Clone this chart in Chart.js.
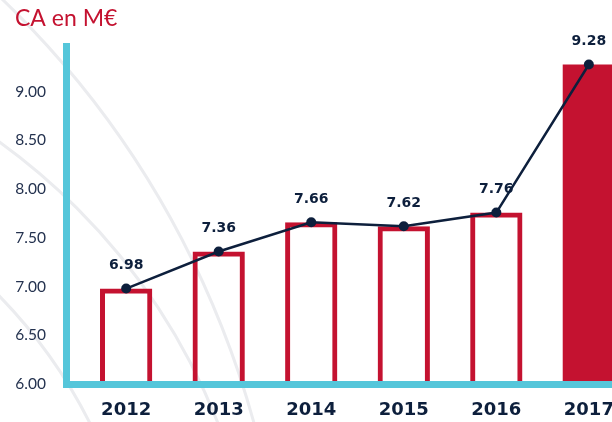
<!DOCTYPE html>
<html>
<head>
<meta charset="utf-8">
<script src="https://cdn.jsdelivr.net/npm/chart.js@4.4.0/dist/chart.umd.min.js"></script>
<style>
  html, body { margin: 0; padding: 0; background: #fff; overflow: hidden; }
</style>
</head>
<body>
<canvas id="caChart" width="612" height="422"></canvas>
<script>
var years = [2012, 2013, 2014, 2015, 2016, 2017];
var revenue = [6.98, 7.36, 7.66, 7.62, 7.76, 9.28];
var yTicks = [6, 6.5, 7, 7.5, 8, 8.5, 9];

var red = '#C41230';
var navy = '#0D1F3C';
var cyan = '#55C6DA';

// faint decorative arcs behind the chart
var backgroundArcs = {
  id: 'backgroundArcs',
  beforeDraw: function(chart) {
    var c = chart.ctx;
    c.save();
    c.fillStyle = '#fff';
    c.fillRect(0, 0, chart.width, chart.height);
    c.strokeStyle = '#EBECEF';
    c.lineWidth = 3;
    [[-643, 669, 930], [-370, 655, 632], [-370, 655, 515]].forEach(function(a) {
      c.beginPath();
      c.arc(a[0], a[1], a[2], 0, Math.PI * 2);
      c.stroke();
    });
    c.restore();
  }
};

// value labels above the line points
var valueLabels = {
  id: 'valueLabels',
  afterDatasetsDraw: function(chart) {
    var meta = chart.getDatasetMeta(1);
    var c = chart.ctx;
    c.save();
    c.font = 'bold 14px "DejaVu Sans"';
    c.fillStyle = navy;
    c.textAlign = 'center';
    c.textBaseline = 'middle';
    meta.data.forEach(function(pt, i) {
      c.fillText(revenue[i].toFixed(2), pt.x, pt.y - 23);
    });
    c.restore();
  }
};

var points = years.map(function(y, i) { return { x: y, y: revenue[i] }; });

var caChart = new Chart(document.getElementById('caChart'), {
  type: 'bar',
  data: {
    datasets: [{
      type: 'bar',
      data: points,
      order: 1,
      backgroundColor: function(ctx) {
        return ctx.dataIndex === years.length - 1 ? red : 'transparent';
      },
      borderColor: red,
      borderWidth: function(ctx) {
        return ctx.dataIndex === years.length - 1 ? 0 : 5;
      },
      categoryPercentage: 1,
      barPercentage: 0.565
    },
    {
      type: 'line',
      data: points,
      order: 0,
      borderColor: navy,
      borderWidth: 2.5,
      pointRadius: 5,
      pointBackgroundColor: navy,
      pointBorderWidth: 0,
      tension: 0
    }]
  },
  options: {
    responsive: false,
    animation: false,
    layout: {
      autoPadding: false,
      padding: { left: 15, top: 0, right: 0, bottom: 0 }
    },
    plugins: {
      legend: { display: false },
      tooltip: { enabled: false },
      title: {
        display: true,
        text: 'CA en M€',
        align: 'start',
        color: red,
        font: { family: 'Lato', size: 23, weight: 'normal' },
        padding: { top: 5, bottom: 13.4 }
      }
    },
    scales: {
      x: {
        type: 'linear',
        offset: false,
        min: 2011.35,
        max: 2017.25,
        afterBuildTicks: function(s) {
          s.ticks = years.map(function(v) { return { value: v }; });
        },
        afterFit: function(s) {
          s.height = 38;
          s.paddingLeft = 0;
          s.paddingRight = 0;
        },
        grid: { display: false, drawTicks: false },
        border: { display: true, color: cyan, width: 7, z: 1 },
        ticks: {
          padding: 16,
          color: navy,
          font: { family: 'DejaVu Sans', size: 18, weight: 'bold' },
          callback: function(v) { return String(v); }
        }
      },
      y: {
        min: 6,
        max: 9.47,
        afterBuildTicks: function(s) {
          s.ticks = yTicks.map(function(v) { return { value: v }; });
        },
        afterFit: function(s) {
          s.width = 51;
          s.paddingTop = 0;
          s.paddingBottom = 0;
        },
        grid: { display: false, drawTicks: false },
        border: { display: true, color: cyan, width: 7, z: 1 },
        ticks: {
          padding: 20,
          color: '#24324F',
          font: { family: 'Lato', size: 15.5 },
          callback: function(v) { return v.toFixed(2); }
        }
      }
    }
  },
  plugins: [backgroundArcs, valueLabels]
});
</script>
</body>
</html>
